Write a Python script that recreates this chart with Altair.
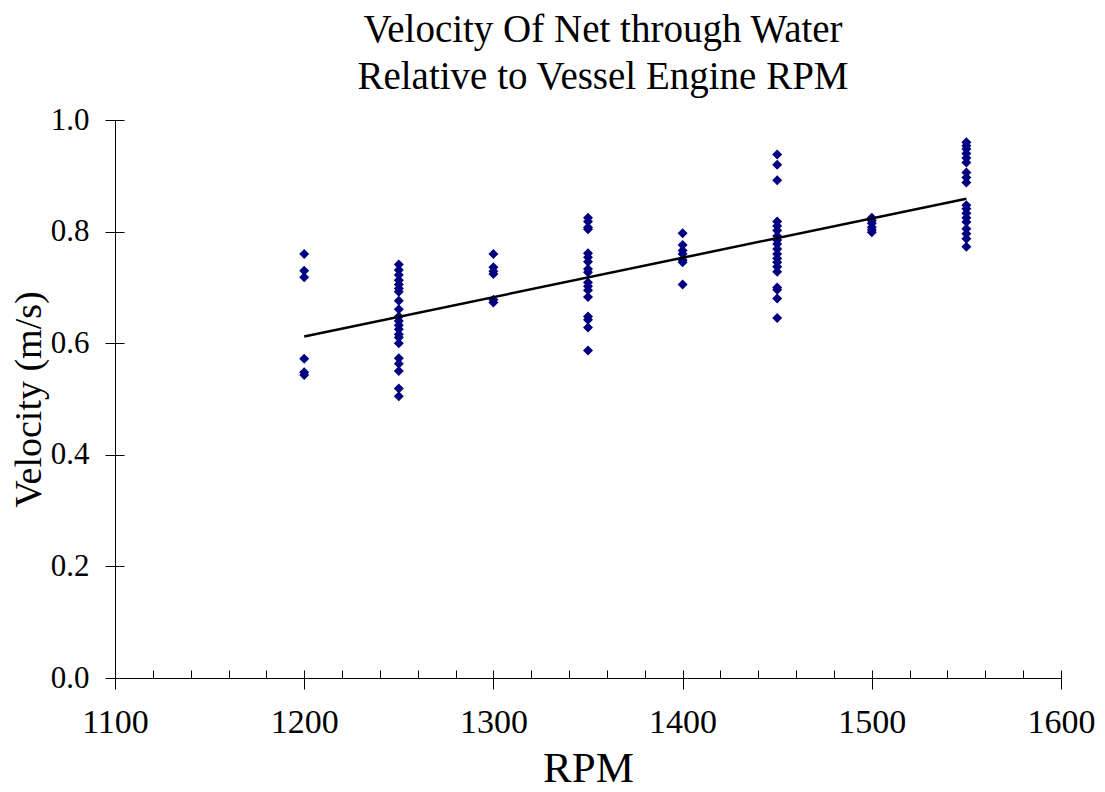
import altair as alt
import pandas as pd

rpm_levels = [1200, 1250, 1300, 1350, 1400, 1450, 1500, 1550]
vel_1200 = [0.760, 0.730, 0.718, 0.572, 0.548, 0.543]
vel_1250 = [0.741, 0.731, 0.722, 0.713, 0.705, 0.698, 0.692, 0.676, 0.661, 0.648,
            0.640, 0.632, 0.625, 0.616, 0.610, 0.600, 0.573, 0.563, 0.550, 0.519, 0.505]
vel_1300 = [0.760, 0.736, 0.729, 0.724, 0.678, 0.673]
vel_1350 = [0.825, 0.818, 0.808, 0.804, 0.761, 0.754, 0.746, 0.733, 0.727, 0.709,
            0.702, 0.695, 0.683, 0.648, 0.642, 0.628, 0.587]
vel_1400 = [0.797, 0.776, 0.766, 0.760, 0.749, 0.745, 0.705]
vel_1450 = [0.938, 0.920, 0.892, 0.818, 0.810, 0.802, 0.792, 0.785, 0.778, 0.769,
            0.760, 0.752, 0.745, 0.737, 0.728, 0.700, 0.696, 0.680, 0.645]
vel_1500 = [0.825, 0.820, 0.815, 0.808, 0.803, 0.799]
vel_1550 = [0.960, 0.954, 0.948, 0.940, 0.932, 0.924, 0.906, 0.897, 0.888, 0.847,
            0.841, 0.833, 0.825, 0.817, 0.805, 0.796, 0.787, 0.773]

trend_rpm = [1200, 1550]
trend_vel = [0.612, 0.859]

x_major = [1100, 1200, 1300, 1400, 1500, 1600]
x_minor = list(range(1100, 1601, 20))
y_ticks = [0.0, 0.2, 0.4, 0.6, 0.8, 1.0]

groups = [vel_1200, vel_1250, vel_1300, vel_1350, vel_1400, vel_1450, vel_1500, vel_1550]
rows = []
for r, vals in zip(rpm_levels, groups):
    for v in vals:
        rows.append({"RPM": r, "Velocity": v})
pts = pd.DataFrame(rows)
trend = pd.DataFrame({"RPM": trend_rpm, "Velocity": trend_vel})

FONT = "Liberation Serif"
xs = alt.Scale(domain=[1100, 1600], nice=False)
ys = alt.Scale(domain=[0, 1], nice=False)

points = alt.Chart(pts).mark_point(
    shape="diamond", filled=True, color="#000080", size=100, opacity=1
).encode(
    x=alt.X("RPM:Q", scale=xs, axis=alt.Axis(
        orient="bottom", values=x_major, format="d", grid=False, labelFlush=False,
        tickSize=11, tickColor="black", domainColor="black",
        labelFont=FONT, labelFontSize=34, labelColor="black", labelPadding=16,
        title="RPM", titleFont=FONT, titleFontSize=43, titleFontWeight="normal",
        titleColor="black", titlePadding=8)),
    y=alt.Y("Velocity:Q", scale=ys, axis=alt.Axis(
        orient="left", values=y_ticks, format=".1f", grid=False, labelFlush=False,
        tickSize=10, tickColor="black", domainColor="black",
        labelFont=FONT, labelFontSize=31, labelColor="black", labelPadding=16,
        title="Velocity (m/s)", titleFont=FONT, titleFontSize=38,
        titleFontWeight="normal", titleColor="black", titlePadding=2)),
)

line = alt.Chart(trend).mark_line(color="black", strokeWidth=2.5).encode(
    x=alt.X("RPM:Q", scale=xs, axis=alt.Axis(
        orient="bottom", values=x_minor, labels=False, domain=False, grid=False,
        tickSize=8, tickColor="black", offset=-8, title=None)),
    y=alt.Y("Velocity:Q", scale=ys, axis=alt.Axis(
        orient="left", values=y_ticks, labels=False, domain=False, grid=False,
        tickSize=9, tickColor="black", offset=-9, title=None)),
)

chart = alt.layer(points, line).resolve_axis(x="independent", y="independent").properties(
    width=946, height=558,
    autosize=alt.AutoSizeParams(type="none"),
    padding={"left": 107, "top": 112, "right": 36, "bottom": 114},
    title=alt.TitleParams(
        text=["Velocity Of Net through Water", "Relative to Vessel Engine RPM"],
        font=FONT, fontSize=39, fontWeight="normal", color="black",
        anchor="middle", dx=15, offset=7, lineHeight=47),
).configure(
    background="white",
    view=alt.ViewConfig(stroke="transparent", strokeWidth=0),
)

chart.save("out.html", embed_options={"renderer": "svg", "actions": False})
